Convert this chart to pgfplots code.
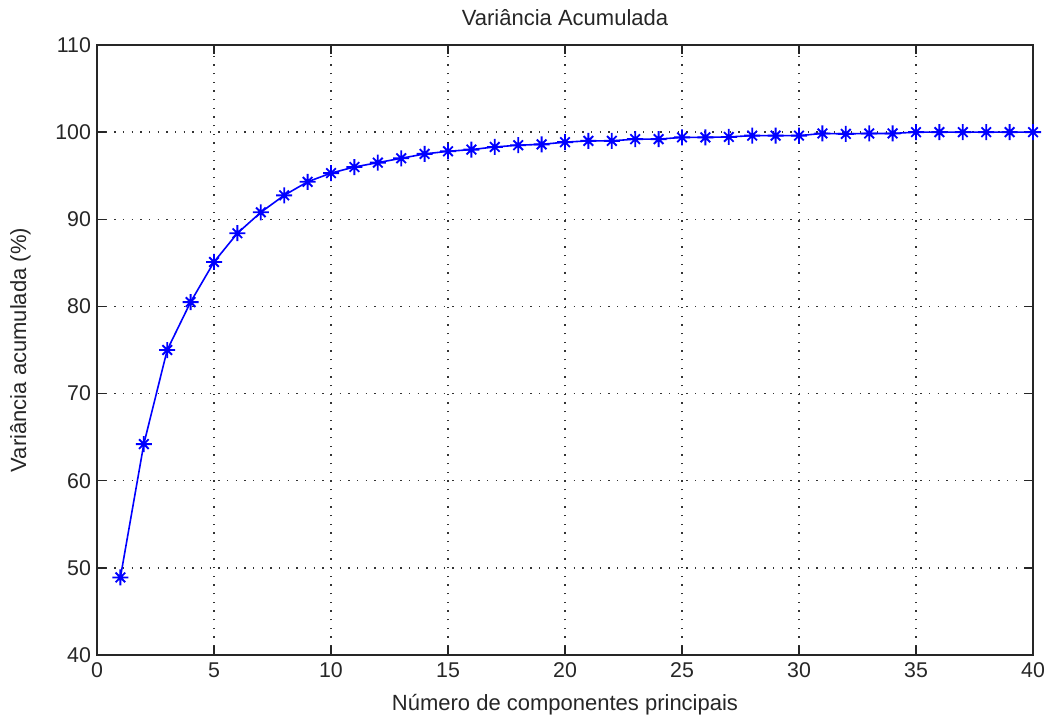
\documentclass[border=0pt]{standalone}
\usepackage{pgfplots}
\pgfplotsset{compat=1.18}
\usepackage{fontspec}
\setmainfont{Liberation Sans}
\pgfdeclareplotmark{mstar}{%
  \pgfpathmoveto{\pgfqpoint{-\pgfplotmarksize}{0pt}}\pgfpathlineto{\pgfqpoint{\pgfplotmarksize}{0pt}}%
  \pgfpathmoveto{\pgfqpoint{0pt}{-\pgfplotmarksize}}\pgfpathlineto{\pgfqpoint{0pt}{\pgfplotmarksize}}%
  \pgfpathmoveto{\pgfqpoint{-0.6\pgfplotmarksize}{-0.6\pgfplotmarksize}}\pgfpathlineto{\pgfqpoint{0.6\pgfplotmarksize}{0.6\pgfplotmarksize}}%
  \pgfpathmoveto{\pgfqpoint{-0.6\pgfplotmarksize}{0.6\pgfplotmarksize}}\pgfpathlineto{\pgfqpoint{0.6\pgfplotmarksize}{-0.6\pgfplotmarksize}}%
  \pgfusepathqstroke}
\begin{document}
\begin{tikzpicture}
\begin{axis}[
  name=ax,
  scale only axis,
  width=702pt, height=457.5pt,
  xmin=0, xmax=40, ymin=40, ymax=110,
  xtick={0,5,...,40}, ytick={40,50,...,110},
  tick align=inside,
  tick pos=both,
  major tick length=7pt,
  grid=major,
  major grid style={black!80, line width=1pt, dash pattern=on 0.9pt off 5.6pt},
  axis line style={black!85, line width=1.1pt},
  every tick/.style={black!85, line width=1.1pt},
  font=\fontsize{16}{18}\selectfont,
  tick label style={font=\fontsize{16}{18}\selectfont, black!85},
  /pgf/number format/assume math mode=true,
  yticklabel style={xshift=-1pt},
  xticklabel style={yshift=-2pt},
  title={Variância Acumulada},
  every axis title/.style={at={(axis description cs:0.5,1)}, anchor=center, yshift=20.5pt, font=\fontsize{16.5}{18}\selectfont, black!85},
  xlabel={Número de componentes principais},
  every axis x label/.style={at={(axis description cs:0.5,0)}, anchor=center, yshift=-37.5pt, font=\fontsize{16.5}{18}\selectfont, black!85},
  ylabel={Variância acumulada (\%)},
  every axis y label/.style={at={(axis description cs:0,0.5)}, anchor=center, xshift=-57.5pt, rotate=90, font=\fontsize{16.5}{18}\selectfont, black!85},
]
\addplot[color={rgb,255:red,0;green,0;blue,255}, line width=1.2pt, mark=mstar, mark size=6pt, mark options={line width=1.4pt}] coordinates {
(1,48.9) (2,64.2) (3,75.0) (4,80.5) (5,85.1) (6,88.4) (7,90.8) (8,92.75) (9,94.3) (10,95.3)
(11,96.0) (12,96.5) (13,97.0) (14,97.5) (15,97.8) (16,98.0) (17,98.3) (18,98.5) (19,98.6) (20,98.85)
(21,99.0) (22,99.0) (23,99.2) (24,99.2) (25,99.4) (26,99.4) (27,99.45) (28,99.6) (29,99.6) (30,99.6)
(31,99.85) (32,99.8) (33,99.85) (34,99.85) (35,100) (36,100) (37,100) (38,100) (39,100) (40,100)
};
\end{axis}
\pgfresetboundingbox
\path (ax.south west) ++(-72.75pt,-46.5pt) coordinate (bl);
\path (ax.north east) ++(12.75pt,33.75pt) coordinate (tr);
\path (bl) rectangle (tr);
\end{tikzpicture}
\end{document}
